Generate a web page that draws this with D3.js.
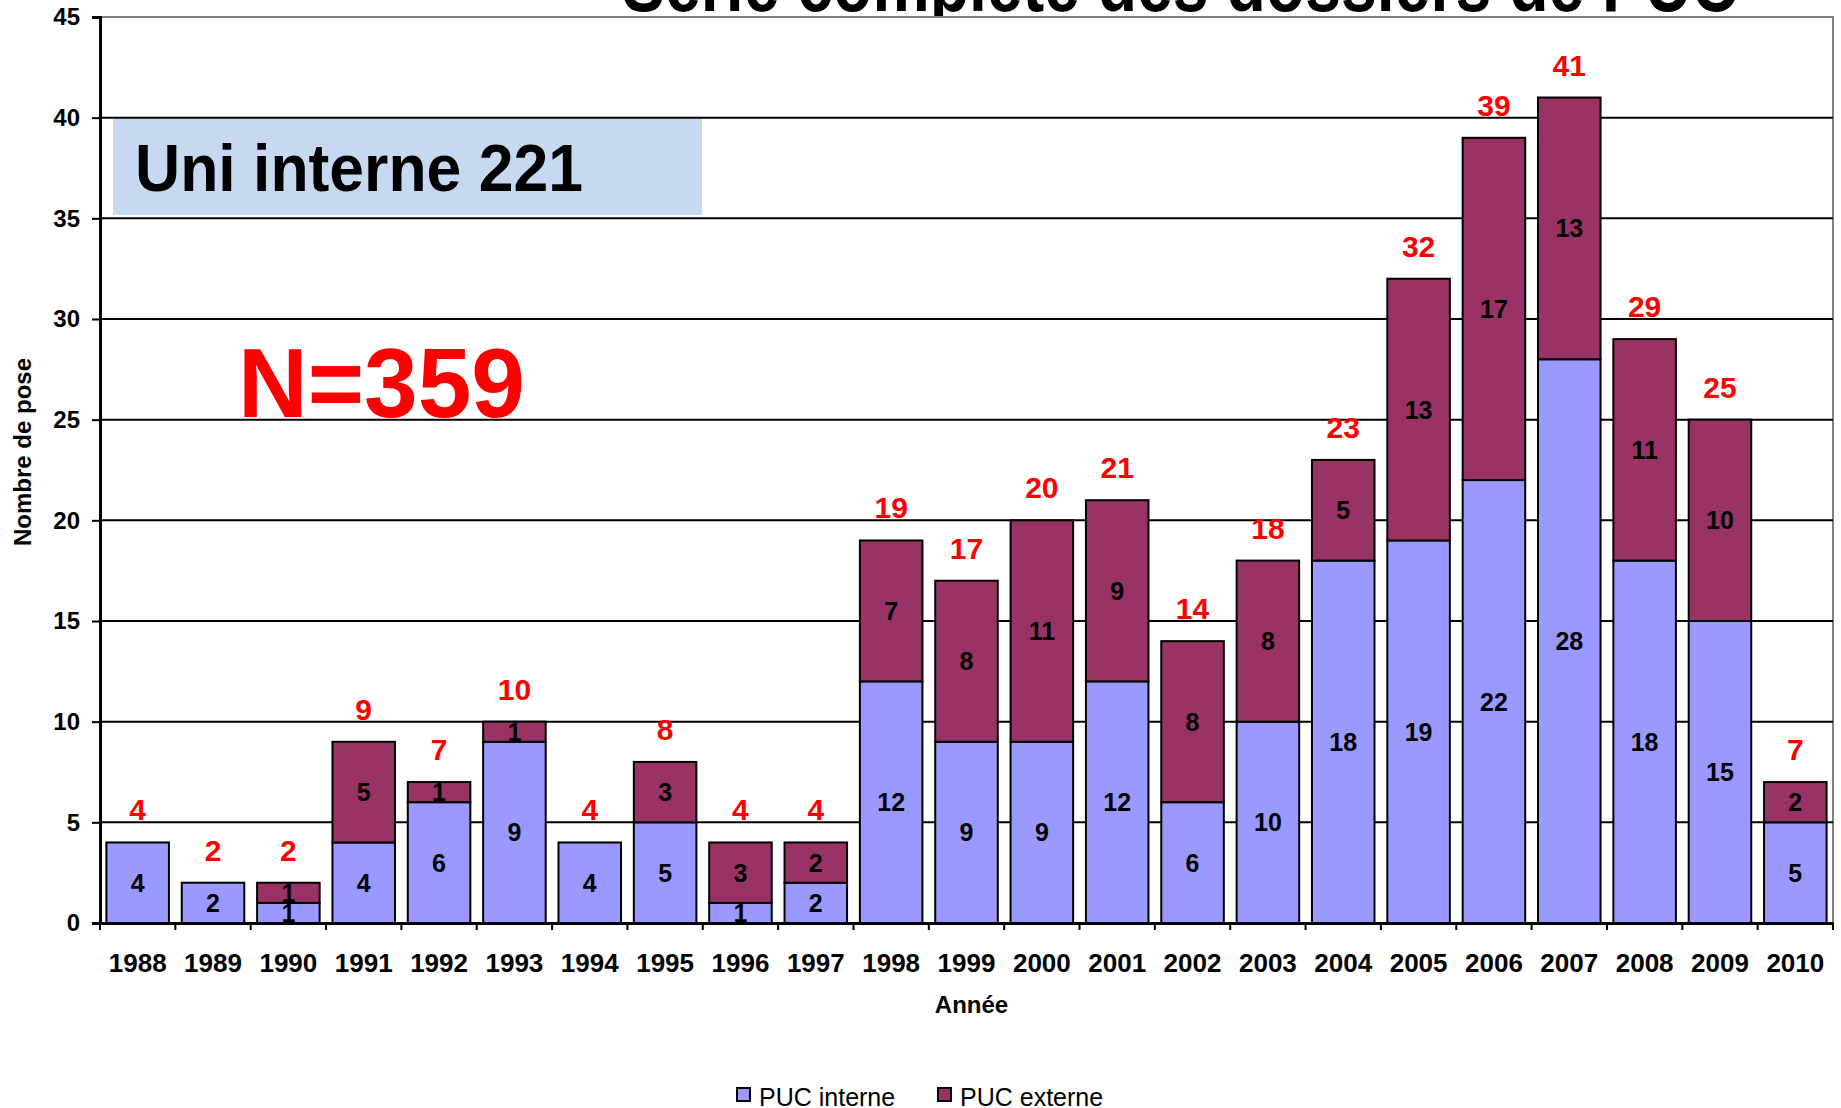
<!DOCTYPE html>
<html>
<head>
<meta charset="utf-8">
<script src="https://cdn.jsdelivr.net/npm/d3@7"></script>
<style>
  body { margin: 0; background: #fff; }
  text { font-family: "Liberation Sans", Arial, sans-serif; }
</style>
</head>
<body>
<div id="chart"></div>
<script>
let years   = ["1988","1989","1990","1991","1992","1993","1994","1995","1996","1997","1998",
               "1999","2000","2001","2002","2003","2004","2005","2006","2007","2008","2009","2010"];
let interne = [4, 2, 1, 4, 6, 9, 4, 5, 1, 2, 12, 9, 9, 12, 6, 10, 18, 19, 22, 28, 18, 15, 5];
let externe = [0, 0, 1, 5, 1, 1, 0, 3, 3, 2, 7, 8, 11, 9, 8, 8, 5, 13, 17, 13, 11, 10, 2];
let yTicks  = [0, 5, 10, 15, 20, 25, 30, 35, 40, 45];
let seriesNames = ["PUC interne", "PUC externe"];

let width  = 1841,
    height = 1108;

let margin = { top: 17, right: 8, bottom: 185, left: 100 };

let innerW = width - margin.left - margin.right,
    innerH = height - margin.top - margin.bottom;

let colors = { "PUC interne": "#9999ff", "PUC externe": "#993366" };

let svg = d3.select("#chart")
  .append("svg")
    .attr("width", width)
    .attr("height", height);

// title (mostly hidden behind the plot area, like the original)
svg.append("text")
    .attr("x", 622)
    .attr("y", 11)
    .attr("font-size", 80)
    .attr("font-weight", "bold")
    .attr("textLength", 1116)
    .attr("lengthAdjust", "spacingAndGlyphs")
    .text("Série complète des dossiers de PUC");

let g = svg.append("g")
    .attr("transform", translate(margin.left, margin.top));

g.append("rect")
    .attr("width", innerW)
    .attr("height", innerH)
    .attr("fill", "#fff")
    .attr("stroke", "#808080")
    .attr("stroke-width", 2);

let x = d3.scaleBand()
    .domain(years)
    .range([0, innerW])
    .paddingInner(0.17)
    .paddingOuter(0.085);

let y = d3.scaleLinear()
    .domain([0, 45])
    .range([innerH, 0]);

// grid
g.append("g")
  .selectAll("line")
  .data(yTicks.filter(function(d) { return d > 0 && d < 45; }))
  .enter().append("line")
    .attr("x1", 0)
    .attr("x2", innerW)
    .attr("y1", function(d) { return y(d); })
    .attr("y2", function(d) { return y(d); })
    .attr("stroke", "#000")
    .attr("stroke-width", 2);

let table = years.map(function(yr, i) {
  return { year: yr, "PUC interne": interne[i], "PUC externe": externe[i], total: interne[i] + externe[i] };
});

let stack = d3.stack().keys(seriesNames)(table);

let layers = g.selectAll(".layer")
  .data(stack)
  .enter().append("g")
    .attr("class", "layer")
    .attr("fill", function(d) { return colors[d.key]; });

layers.selectAll("rect")
  .data(function(d) { return d.filter(function(s) { return s[1] > s[0]; }); })
  .enter().append("rect")
    .attr("x", function(d) { return x(d.data.year); })
    .attr("y", function(d) { return y(d[1]); })
    .attr("width", x.bandwidth())
    .attr("height", function(d) { return y(d[0]) - y(d[1]); })
    .attr("stroke", "#000")
    .attr("stroke-width", 2);

layers.selectAll("text")
  .data(function(d) { return d.filter(function(s) { return s[1] > s[0]; }); })
  .enter().append("text")
    .attr("x", function(d) { return x(d.data.year) + x.bandwidth() / 2; })
    .attr("y", function(d) { return y((d[0] + d[1]) / 2); })
    .attr("dy", "0.36em")
    .attr("text-anchor", "middle")
    .attr("font-size", 25)
    .attr("font-weight", "bold")
    .attr("fill", "#000")
    .text(function(d) { return d[1] - d[0]; });

// totals
g.append("g")
  .selectAll("text")
  .data(table)
  .enter().append("text")
    .attr("x", function(d) { return x(d.year) + x.bandwidth() / 2; })
    .attr("y", function(d) { return y(d.total) - 22; })
    .attr("text-anchor", "middle")
    .attr("font-size", 30)
    .attr("font-weight", "bold")
    .attr("fill", "#ff0000")
    .text(function(d) { return d.total; });

// y axis
let yAxis = g.append("g")
    .call(d3.axisLeft(y).tickValues(yTicks).tickSize(8).tickPadding(12));
yAxis.select(".domain").attr("stroke", "#000").attr("stroke-width", 3);
yAxis.selectAll(".tick line").attr("stroke", "#000").attr("stroke-width", 2);
yAxis.selectAll(".tick text")
    .attr("font-size", 24)
    .attr("font-weight", "bold")
    .attr("fill", "#000")
    .style("font-family", "'Liberation Sans', Arial, sans-serif");

// x axis
let xAxis = g.append("g")
    .attr("transform", translate(0, innerH))
    .call(d3.axisBottom(x).tickSize(0).tickPadding(31));
xAxis.select(".domain").attr("stroke", "#000").attr("stroke-width", 3);
xAxis.selectAll(".tick text")
    .attr("font-size", 26)
    .attr("font-weight", "bold")
    .attr("fill", "#000")
    .style("font-family", "'Liberation Sans', Arial, sans-serif");

let bounds = d3.range(years.length + 1).map(function(i) { return i * x.step(); });
xAxis.selectAll(".bound")
  .data(bounds)
  .enter().append("line")
    .attr("class", "bound")
    .attr("x1", function(d) { return d; })
    .attr("x2", function(d) { return d; })
    .attr("y1", 0)
    .attr("y2", 7)
    .attr("stroke", "#000")
    .attr("stroke-width", 2);

// axis titles
svg.append("text")
    .attr("x", margin.left + innerW / 2 + 5)
    .attr("y", 1013)
    .attr("text-anchor", "middle")
    .attr("font-size", 24)
    .attr("font-weight", "bold")
    .text("Année");

svg.append("text")
    .attr("transform", "translate(31, 452) rotate(-90)")
    .attr("text-anchor", "middle")
    .attr("font-size", 24)
    .attr("font-weight", "bold")
    .text("Nombre de pose");

// annotations
svg.append("rect")
    .attr("x", 113)
    .attr("y", 119)
    .attr("width", 589)
    .attr("height", 96)
    .attr("fill", "#c6d9f1");

svg.append("text")
    .attr("x", 135)
    .attr("y", 191)
    .attr("font-size", 67)
    .attr("font-weight", "bold")
    .attr("textLength", 448)
    .attr("lengthAdjust", "spacingAndGlyphs")
    .text("Uni interne 221");

svg.append("text")
    .attr("x", 238)
    .attr("y", 417)
    .attr("font-size", 98)
    .attr("font-weight", "bold")
    .attr("fill", "#ff0000")
    .attr("textLength", 287)
    .attr("lengthAdjust", "spacingAndGlyphs")
    .text("N=359");

// legend
let legend = svg.append("g")
  .selectAll("g")
  .data(seriesNames)
  .enter().append("g")
    .attr("transform", function(d, i) { return translate(737 + i * 201, 1088); });

legend.append("rect")
    .attr("width", 13)
    .attr("height", 13)
    .attr("fill", function(d) { return colors[d]; })
    .attr("stroke", "#000")
    .attr("stroke-width", 2);

legend.append("text")
    .attr("x", 22)
    .attr("y", 18)
    .attr("font-size", 25)
    .text(function(d) { return d; });

function translate(x, y=0) {
  return "translate({x}, {y})"
          .replace("{x}", x)
          .replace("{y}", y);
}
</script>
</body>
</html>
